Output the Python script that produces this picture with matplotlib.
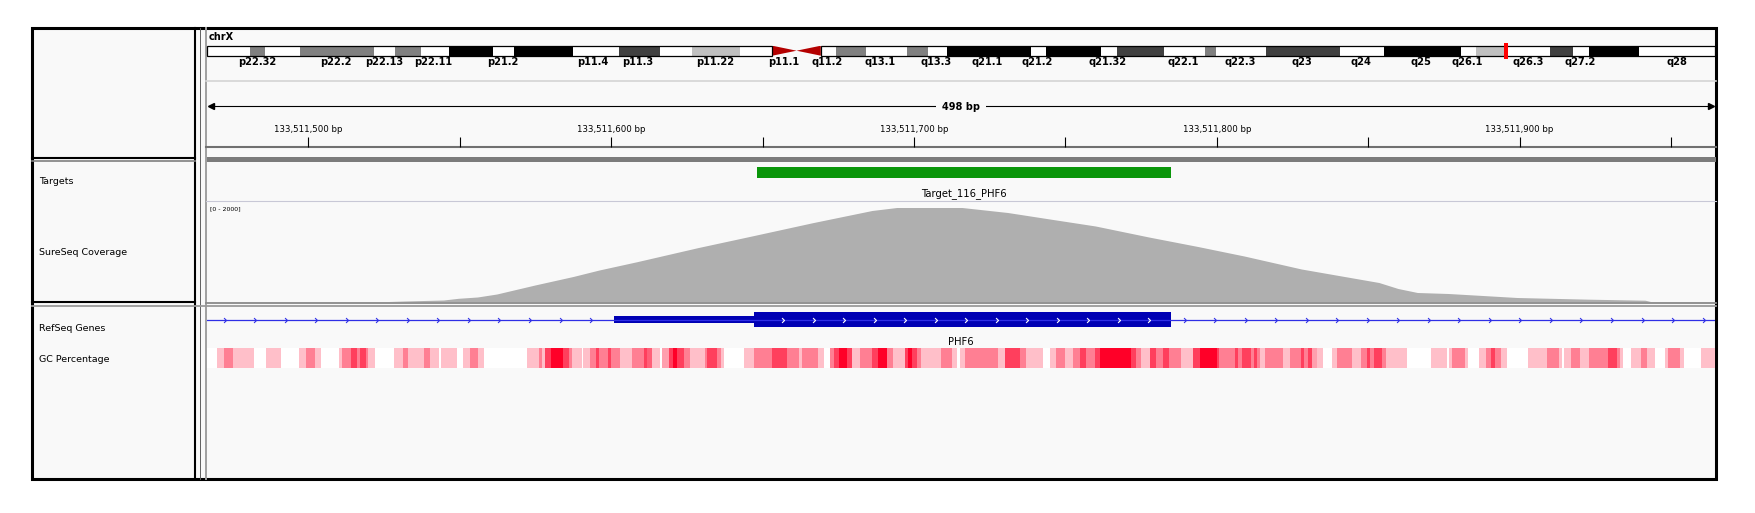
import numpy as np
import matplotlib
matplotlib.use("Agg")
import matplotlib.pyplot as plt
from matplotlib.colors import LinearSegmentedColormap
from matplotlib.patches import Rectangle, Polygon
from matplotlib.path import Path

W, H = 1755, 513
REGION_START = 133511466.5
REGION_END = 133511964.5
CHRX_LEN = 155.27  # Mb

# chrX ideogram bands (Mb edges) and stains
band_edges = [0, 4.4, 6.0, 9.6, 17.2, 19.4, 22.0, 24.9, 29.4, 31.6,
              37.7, 42.4, 46.6, 49.9, 54.9, 58.2, 63.2, 64.8, 67.9, 72.1,
              74.2, 76.2, 84.8, 86.4, 92.0, 93.7, 98.5, 102.8, 103.9, 109.0,
              116.7, 121.2, 129.1, 130.7, 133.6, 138.3, 140.6, 142.3, 147.4, 155.27]
band_stain = ['gneg', 'gpos50', 'gneg', 'gpos50', 'gneg', 'gpos50', 'gneg', 'gpos100', 'gneg', 'gpos100',
              'gneg', 'gpos75', 'gneg', 'gpos25', 'gneg', 'acen', 'gneg', 'gpos50', 'gneg', 'gpos50',
              'gneg', 'gpos100', 'gneg', 'gpos100', 'gneg', 'gpos75', 'gneg', 'gpos50', 'gneg', 'gpos75',
              'gneg', 'gpos100', 'gneg', 'gpos25', 'gneg', 'gpos75', 'gneg', 'gpos100', 'gneg']
band_names = ['p22.32', 'p22.2', 'p22.13', 'p22.11', 'p21.2', 'p11.4', 'p11.3', 'p11.22',
              'p11.1', 'q11.2', 'q13.1', 'q13.3', 'q21.1', 'q21.2', 'q21.32', 'q22.1',
              'q22.3', 'q23', 'q24', 'q25', 'q26.1', 'q26.3', 'q27.2', 'q28']
band_label_pos = [5.15, 13.24, 18.22, 23.33, 30.43, 39.74, 44.32, 52.28,
                  59.34, 63.87, 69.27, 75.06, 80.34, 85.5, 92.75, 100.55,
                  106.36, 112.7, 118.86, 124.98, 129.73, 135.99, 141.42, 151.35]
view_pos_mb = 133.51

# ruler
tick_step = 50
label_step = 100

# targets track
target_start = 133511648
target_end = 133511785
target_name = "Target_116_PHF6"

# coverage (offset from region start in bp, depth)
cov_offset = [0, 60, 65.2, 78.1, 83.0, 89.3, 95.7, 108.3, 120.9, 129.5,
              142.0, 162.3, 179.9, 200.0, 219.6, 227.8, 249.3, 264.4, 278.3, 293.4,
              311.0, 327.2, 342.5, 361.4, 387.0, 393.3, 399.7, 409.9, 421.3, 432.6,
              456.5, 474.9, 476.7, 498]
cov_depth = [0, 0, 10, 30, 64, 90, 150, 330, 500, 630,
             796, 1080, 1310, 1576, 1820, 1880, 1880, 1780, 1650, 1510,
             1290, 1100, 910, 650, 380, 260, 180, 160, 120, 80,
             46, 26, 0, 0]
cov_max = 2000

# RefSeq gene PHF6 (partial, extends beyond view)
gene_name = "PHF6"
exon_start = 133511601
cds_start = 133511647
exon_end = 133511785

# GC percentage (segment start offset in bp, intensity level 0-4)
gc_start = [0, 3.3, 5.5, 8.5, 15.5, 19.4, 24.4, 30.5, 32.6, 35.6,
            37.6, 43.5, 44.6, 47.4, 49.5, 50.5, 52.5, 53.2, 55.6, 61.6,
            64.7, 66.4, 71.5, 73.6, 76.7, 77.3, 82.6, 84.7, 86.7, 89.6,
            91.6, 105.7, 109.7, 110.6, 111.7, 113.6, 117.7, 119.6, 120.7, 123.7,
            124.3, 126.5, 128.4, 129.5, 132.5, 133.5, 136.4, 140.4, 144.3, 145.4,
            147.1, 149.5, 150.4, 152.6, 154.0, 155.3, 157.5, 159.5, 164.4, 165.2,
            168.4, 169.6, 170.7, 177.5, 180.5, 186.6, 191.5, 195.4, 196.5, 201.9,
            203.6, 205.6, 207.1, 208.6, 211.5, 212.9, 215.5, 219.5, 221.5, 224.5,
            226.7, 230.5, 231.6, 232.7, 234.4, 235.7, 242.3, 245.9, 247.6, 248.7,
            250.3, 261.3, 263.5, 268.4, 270.6, 276.1, 278.3, 280.5, 283.3, 286.0,
            288.2, 290.4, 293.2, 294.8, 305.3, 306.9, 308.6, 311.3, 313.5, 315.7,
            317.7, 321.8, 325.6, 327.8, 333.4, 334.3, 339.6, 340.4, 341.8, 344.8,
            345.6, 346.9, 347.7, 349.5, 355.4, 357.6, 361.4, 362.3, 363.7, 364.8,
            366.7, 368.5, 371.6, 373.2, 378.2, 381.1, 383.1, 384.2, 385.3, 388.1,
            389.4, 396.3, 404.2, 409.5, 410.3, 411.3, 415.3, 416.3, 420.2, 422.3,
            424.1, 425.2, 427.4, 429.2, 436.4, 442.4, 446.5, 447.4, 448.2, 450.3,
            453.4, 456.4, 462.5, 465.5, 466.6, 467.5, 470.4, 473.5, 475.4, 478.3,
            481.4, 482.5, 486.6, 487.7, 493.5]
gc_level = [0, 1, 2, 1, 0, 1, 0, 1, 2, 1,
            0, 1, 2, 3, 2, 3, 2, 1, 0, 1,
            2, 1, 2, 1, 0, 1, 0, 1, 2, 1,
            0, 1, 2, 1, 3, 4, 3, 2, 1, 0,
            1, 2, 3, 2, 3, 2, 1, 2, 3, 2.5,
            1, 0, 1.5, 3, 4, 3, 2, 1, 2, 3,
            2, 1, 0, 1, 2, 3, 2, 1, 2, 1,
            0, 2, 3, 4, 3, 1, 2, 3, 4, 2,
            1, 3, 4, 3, 2, 1, 2, 1, 0, 1,
            2, 1, 3, 2, 1, 0, 1, 2, 1, 2,
            3, 2, 3, 4, 3, 2, 1, 3, 2, 3,
            2, 1, 3, 4, 3, 2, 3, 2, 3, 2,
            3, 2, 1, 2, 1, 2, 3, 2, 3, 1.5,
            1, 0, 1, 2, 1, 2, 3, 2, 3, 2,
            1, 0, 1, 0, 1, 2, 1, 0, 1, 2,
            3, 2, 1, 0, 1, 2, 1, 0, 1, 2,
            1, 2, 3, 2, 1, 0, 1, 2, 1, 0,
            1, 2, 1, 0, 1]

stain_colors = {'gneg': '#ffffff', 'gpos25': '#c0c0c0', 'gpos50': '#808080',
                'gpos75': '#404040', 'gpos100': '#000000', 'acen': '#b40000'}
PANEL = '#f9f9f9'


def px_axes(fig, x0, y0, x1, y1):
    # axes placed by pixel box (y from top)
    return fig.add_axes([x0 / W, (H - y1) / H, (x1 - x0) / W, (y1 - y0) / H])


fig = plt.figure(figsize=(W / 100, H / 100), dpi=100)
fig.patch.set_facecolor('white')

# background / frame axes in pixel coords
ax_bg = fig.add_axes([0, 0, 1, 1])
ax_bg.set_xlim(0, W)
ax_bg.set_ylim(H, 0)
ax_bg.axis('off')
ax_bg.add_patch(Rectangle((32, 28), 1684, 451, facecolor=PANEL, edgecolor='black', lw=2.2))
ax_bg.plot([195, 195], [28, 479], color='black', lw=1.5)
ax_bg.plot([200.5, 200.5], [28, 479], color='#606060', lw=0.7)
ax_bg.plot([206, 206], [28, 479], color='#a0a0a0', lw=1.4)
for y in (157.5, 301.5):
    ax_bg.plot([32, 195], [y, y], color='black', lw=1.5)
ax_bg.add_patch(Rectangle((206, 157), 1510, 4.5, facecolor='#7c7c7c', edgecolor='none'))
ax_bg.plot([32, 195], [160.5, 160.5], color='#808080', lw=1.2)
ax_bg.plot([206, 1716], [302.5, 302.5], color='#8a8a8a', lw=1.3)
ax_bg.plot([32, 1716], [306.3, 306.3], color='#9a9a9a', lw=1.3)
ax_bg.plot([206, 1716], [81, 81], color='#d4d4d4', lw=1.2)
ax_bg.plot([206, 1716], [201.3, 201.3], color='#c8c8d6', lw=0.8)
ax_bg.plot([206, 1716], [147.3, 147.3], color='#707070', lw=1.5)

txt = dict(fontsize=6.8, family='DejaVu Sans', va='center', ha='left', color='black')
ax_bg.text(39, 181.7, "Targets", **txt)
ax_bg.text(39, 252.7, "SureSeq Coverage", **txt)
ax_bg.text(39, 328.3, "RefSeq Genes", **txt)
ax_bg.text(39, 359, "GC Percentage", **txt)
ax_bg.text(209, 37.5, "chrX", fontsize=7, fontweight='bold', va='center', ha='left')

# ideogram
ax_ideo = px_axes(fig, 207, 45.7, 1715, 55.7)
ax_ideo.set_xlim(0, CHRX_LEN)
ax_ideo.set_ylim(0, 1)
ax_ideo.axis('off')
for i, stain in enumerate(band_stain):
    x0, x1 = band_edges[i], band_edges[i + 1]
    if stain == 'acen':
        mid = (x0 + x1) / 2
        ax_ideo.add_patch(Polygon([[x0, 0], [x0, 1], [mid, 0.5]], closed=True,
                                  facecolor=stain_colors[stain], edgecolor='none'))
        ax_ideo.add_patch(Polygon([[x1, 0], [x1, 1], [mid, 0.5]], closed=True,
                                  facecolor=stain_colors[stain], edgecolor='none'))
        cen = (x0, x1)
    else:
        ax_ideo.bar(x0, 1, width=x1 - x0, bottom=0, align='edge',
                    color=stain_colors[stain], edgecolor='none')
for a, b in [(band_edges[0], cen[0]), (cen[1], band_edges[-1])]:
    ax_ideo.add_patch(Rectangle((a, 0), b - a, 1, facecolor='none', edgecolor='black',
                                lw=0.9, clip_on=False))
ax_ideo.add_patch(Rectangle((view_pos_mb, -0.3), 0.45, 1.6, facecolor='#ff0000',
                            edgecolor='none', clip_on=False, zorder=5))
for name, pos in zip(band_names, band_label_pos):
    ax_ideo.text(pos, -0.6, name, fontsize=7.1, fontweight='bold', ha='center', va='center')

# track axes: x in bp, y in pixels
ax = px_axes(fig, 207, 28, 1715, 479)
ax.set_xlim(REGION_START, REGION_END)
ax.set_ylim(479, 28)
ax.axis('off')
ax.patch.set_alpha(0)

# ruler
ax.plot([REGION_START + 1, REGION_END - 1], [106, 106], color='black', lw=0.8)
ax.plot([REGION_START + 1.2], [106], marker='<', color='black', ms=4)
ax.plot([REGION_END - 1.2], [106], marker='>', color='black', ms=4)
ax.text((REGION_START + REGION_END) / 2, 107.5, f"{int(REGION_END - REGION_START)} bp",
        fontsize=7, fontweight='bold', ha='center', va='center',
        bbox=dict(facecolor=PANEL, edgecolor='none', pad=4))
ticks = np.arange(np.ceil(REGION_START / tick_step) * tick_step, REGION_END, tick_step)
ax.vlines(ticks, 137, 147, color='black', lw=0.8)
for t in ticks:
    if t % label_step == 0:
        ax.text(t, 129, f"{int(t):,} bp", fontsize=6.2, ha='center', va='center')

# targets
ax.add_patch(Rectangle((target_start, 167.3), target_end - target_start, 10.4,
                       facecolor='#0a960a', edgecolor='none'))
ax.text((target_start + target_end) / 2, 194, target_name, fontsize=7.2,
        ha='center', va='center')

# gene
ax.plot([REGION_START, REGION_END], [320, 320], color='#2f2fe6', lw=0.9)
chev = Path([(-1, 1), (0, 0), (-1, -1)], [Path.MOVETO, Path.LINETO, Path.LINETO])
left_chev = np.arange(133511472.7, exon_start - 5, 10.08)
right_chev = np.arange(133511789.7, REGION_END - 2, 10.08)
ax.plot(np.concatenate([left_chev, right_chev]), np.full(len(left_chev) + len(right_chev), 320),
        ls='none', marker=chev, ms=3.5, mew=0.8, mec='#2f2fe6', mfc='none')
ax.add_patch(Rectangle((exon_start, 315.7), cds_start - exon_start, 7.6,
                       facecolor='#0000b4', edgecolor='none'))
ax.add_patch(Rectangle((cds_start, 312.3), exon_end - cds_start, 14.4,
                       facecolor='#0000b4', edgecolor='none'))
exon_chev = np.arange(133511657.1, exon_end - 3, 10.08)
ax.plot(exon_chev, np.full(len(exon_chev), 320), ls='none', marker=chev, ms=3.5,
        mew=0.8, mec='white', mfc='none')
ax.text((REGION_START + REGION_END) / 2, 341.7, gene_name, fontsize=7.2,
        ha='center', va='center')

# GC percentage heat strip
gc_edges = REGION_START + np.array(gc_start + [REGION_END - REGION_START])
gc_cmap = LinearSegmentedColormap.from_list('gc', ['#ffffff', '#ff0028'])
ax.pcolormesh(gc_edges, [348, 368], np.array([gc_level]), cmap=gc_cmap,
              vmin=0, vmax=4, shading='flat', antialiased=False, edgecolor='none')

# coverage
ax_cov = px_axes(fig, 207, 201.5, 1715, 301.5)
ax_cov.set_xlim(REGION_START, REGION_END)
ax_cov.set_ylim(0, cov_max)
ax_cov.axis('off')
ax_cov.patch.set_alpha(0)
ax_cov.fill_between(REGION_START + np.array(cov_offset), cov_depth, color='#afafaf', lw=0)
ax_cov.text(REGION_START + 1, cov_max * 0.93, f"[0 - {cov_max}]", fontsize=4.5,
            ha='left', va='center')

fig.savefig('out.png', dpi=100, facecolor='white')
